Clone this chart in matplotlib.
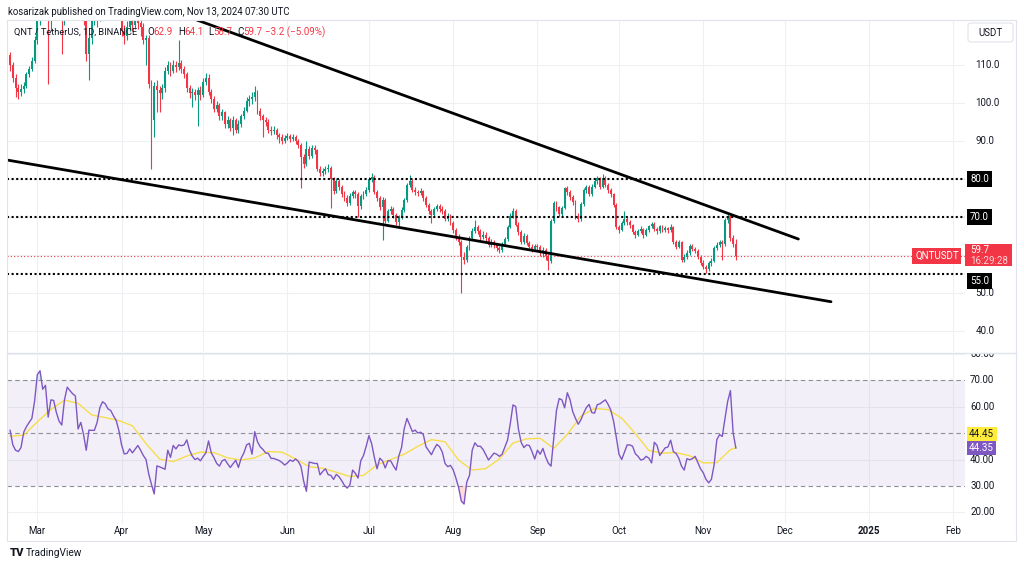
import numpy as np
import pandas as pd
import matplotlib
matplotlib.use("Agg")
import matplotlib.pyplot as plt
import matplotlib.dates as mdates
from matplotlib.patches import Rectangle, FancyBboxPatch
from matplotlib.lines import Line2D
from matplotlib.transforms import blended_transform_factory as blend

plt.rcParams["font.family"] = ["Roboto", "DejaVu Sans"]

# ---------------- data ----------------
start_date = "2024-02-20"
first_open = 112.5

closes = [
    110, 106.5, 104, 103, 103.8, 104.5, 107.5, 109, 111, 116.5,
    122, 125, 127, 129, 122, 126, 130, 133, 128, 123,
    126, 131, 134, 130, 132, 128, 126, 123, 113, 117,
    121.5, 124, 122.5, 126, 129, 127, 130, 128, 131, 129,
    126, 119, 117.5, 120, 122, 120.5, 123, 121, 120, 116.5,
    117, 105, 95.5, 104.5, 103.5, 102.5, 104, 108.5, 110, 108.5,
    110, 109.5, 110.5, 109, 107.5, 104, 102.5, 103, 102, 103.5,
    102, 105.5, 106.5, 103, 101, 98.5, 99.5, 96.5, 97.5, 94.5,
    95.5, 93.5, 95.5, 93, 94.5, 96.5, 98, 100.5, 101, 101.5,
    103, 98, 96.5, 95.5, 95, 93, 92.5, 93, 91.5, 91,
    90, 90.8, 91.3, 90.5, 91, 90, 89, 85.8, 84, 88,
    86, 88.2, 87.5, 82.5, 81.6, 82, 82.5, 83, 80, 76.8,
    79.5, 78, 76, 75, 73.8, 75.5, 76.5, 76, 72.8, 75.5,
    76, 77, 80, 80.6, 76.5, 75, 72.5, 74.5, 69, 71.5,
    72, 70.5, 68.7, 70, 71.8, 74.5, 78.5, 79.5, 77, 76.5,
    76.3, 76.8, 75, 73.2, 71.5, 70.5, 72, 72.8, 72, 71.5,
    69.5, 70.3, 68.4, 66.5, 64.7, 63.3, 59.5, 58.8, 62, 64.5,
    66.3, 67.4, 66.2, 64.8, 65.3, 64.5, 62.6, 63.5, 62.5, 61.8,
    61.2, 62.8, 64.2, 67.4, 70.3, 71.6, 68, 66, 63.5, 65,
    63.2, 62.2, 61.5, 62.4, 62, 60.5, 61.2, 59.8, 58.5, 69,
    73.7, 72.5, 70.8, 72.3, 77.5, 76.5, 75.3, 74, 70.2, 69.5,
    73.5, 77, 77.8, 76, 78, 79.5, 80.2, 78, 80.3, 78.5,
    77, 76, 73.2, 67.4, 66.6, 68.5, 69.5, 68.7, 67.8, 66,
    65.3, 66.2, 66.8, 65.3, 66.5, 67.5, 68.2, 66.8, 66.3, 67.5,
    66.5, 67, 66.5, 67.3, 63.5, 62.2, 63.3, 58.8, 59.5, 60.5,
    62.4, 61.6, 61, 59.5, 58, 56.8, 56.2, 57.8, 58.5, 61.8,
    62.5, 63.4, 62.8, 69.2, 70.2, 64.5, 62.9, 59.7,
]

highs = [
    113.5, 110.8, 107.5, 105, 105, 105.5, 108.2, 109.8, 112, 117.5,
    123.5, 127, 129, 131, 131, 127.5, 131.5, 135, 134, 129,
    127.5, 132.5, 136, 135, 133.5, 133, 129.5, 127, 124, 118.5,
    123, 125.5, 125, 127.5, 130.5, 130, 131.5, 131, 132.5, 132,
    130, 127, 120.5, 121.5, 123.5, 123, 124.5, 124, 122, 121,
    118, 118, 106, 105.5, 106, 104.5, 105, 109.5, 111, 110.8,
    111.2, 111, 116.5, 111.2, 109.8, 108.2, 104.8, 104, 103.8, 104.2,
    104.5, 106.5, 108, 107.5, 103.8, 101.8, 100.5, 100, 98.5, 98,
    96.5, 96, 96.5, 96, 95.5, 97.2, 99, 101.5, 102, 103,
    104.5, 103.5, 98.8, 97.2, 96.2, 95.8, 94, 94, 93.5, 92.2,
    91.8, 91.5, 92, 91.8, 91.8, 91.5, 90.5, 89.5, 86.5, 90,
    88.8, 89, 89, 88, 83.5, 83, 83.5, 84, 83.5, 80.5,
    80.2, 80, 78.5, 76.8, 75.8, 76.2, 77.2, 77, 76.5, 76,
    76.8, 77.8, 80.5, 81.6, 81, 77, 75.5, 75.2, 75, 72.2,
    72.8, 72.5, 71, 70.6, 72.5, 75, 79, 81, 80, 77.8,
    77.2, 77.5, 77.2, 75.6, 73.8, 72, 72.6, 73.5, 73.3, 72.8,
    72, 71, 70.8, 69, 67.2, 65.4, 64, 60.8, 62.6, 65,
    67, 69.2, 68, 66.8, 66.2, 66, 65, 64.2, 64, 63,
    62.4, 63.3, 64.8, 68, 71, 72.3, 72, 68.6, 66.5, 65.8,
    65.5, 63.8, 62.8, 63, 63, 62.5, 62, 61.8, 60.3, 69.6,
    74.3, 74.2, 73, 73, 78, 78.2, 77, 75.8, 74.5, 71,
    74, 77.6, 78.5, 78.3, 78.6, 80.2, 80.8, 80.6, 81.2, 80.8,
    79, 77.5, 76.4, 73.8, 68, 69, 71.5, 70, 69.2, 68.2,
    66.6, 66.8, 67.5, 67.2, 67, 68, 68.8, 68.6, 67.3, 68,
    68, 67.6, 67.4, 68.2, 67.7, 64, 64, 63.8, 60.2, 61.2,
    63, 63, 62.2, 61.5, 60, 58.6, 57.4, 58.3, 59.2, 62.4,
    63.4, 64, 64, 69.8, 71, 70.8, 65.3, 64.1,
]

lows = [
    108.5, 105.5, 101.5, 101, 101.8, 102.5, 104, 106.8, 108.5, 110.5,
    115.5, 120.5, 123.5, 125, 105, 119, 124.5, 128.5, 125, 113,
    120.5, 125, 129.5, 127, 127.5, 125.5, 123.5, 120.5, 111, 106,
    115.5, 120.5, 120, 121.5, 124.5, 125, 125.5, 126, 127, 127,
    124, 117.5, 115.5, 116.5, 119, 119, 119.5, 119.5, 117.5, 115.5,
    110, 104, 82.5, 91, 97.5, 97.5, 101, 103, 107.5, 107,
    107.8, 108.2, 108.8, 107.8, 106.5, 103, 101.2, 99, 100.8, 94,
    100.8, 101.5, 104.8, 102.2, 100, 97.5, 97.5, 95.5, 95.5, 93.5,
    93.5, 92.5, 91.5, 92, 92.2, 93.8, 95.8, 97.5, 99.2, 99.8,
    100.5, 97.2, 95.5, 91, 94, 92.2, 91.5, 91.8, 90.5, 89.5,
    89.2, 89.5, 90.2, 89.8, 90, 89.2, 88.2, 77.6, 82.8, 83.5,
    85.2, 85.5, 86.5, 82, 80.8, 80.8, 81.2, 81.8, 72.4, 76,
    76.2, 77.2, 75.2, 74.2, 73, 73.2, 75, 75, 70, 72.2,
    74.8, 75.5, 76.5, 79.2, 76, 74.2, 71.8, 64, 68.4, 68.6,
    70.8, 69.8, 68, 67.5, 69.5, 71.2, 74, 77.8, 76.5, 75.8,
    75.5, 75.8, 74.3, 72.5, 70.8, 68.5, 70, 71.5, 71.3, 70.8,
    69, 69, 67.8, 65.8, 64, 62.6, 50, 57.5, 58.2, 61.4,
    64, 65.8, 65.5, 64, 64.2, 63.8, 62, 62, 61.8, 61,
    60.5, 60.8, 62.3, 63.8, 67, 69.8, 67.5, 65.2, 63, 63,
    62.5, 61.5, 60.8, 61, 61.2, 59.8, 59.5, 58.8, 56, 58,
    68.5, 71.6, 70, 70.2, 72, 75.8, 74.6, 73.2, 69.6, 68.8,
    69, 73, 76.3, 75.4, 75.5, 77.5, 78.8, 77.4, 77.6, 77.8,
    76.4, 75.3, 72.6, 66.8, 65.9, 66.2, 68, 68, 67.2, 65.5,
    64.6, 64.9, 65.8, 64.6, 64.9, 66, 67, 66.2, 65.6, 65.9,
    66, 66, 65.8, 66, 63, 61.5, 61.8, 58.2, 58.2, 59,
    60, 61, 60.4, 59, 57.4, 56.2, 55.3, 55.8, 57.2, 58.2,
    61.2, 62, 58.7, 62.4, 68.5, 63.8, 62.2, 58.7,
]

rsi = [
    51, 45.5, 43.5, 43, 44.5, 50.3, 52.4, 54, 55.5, 62,
    72, 73.5, 66.5, 68, 56, 62.5, 62.3, 57.8, 54.5, 53,
    62.5, 67.3, 66, 64.8, 64, 51.5, 54, 49.5, 43.5, 51.1,
    51, 51, 54, 59.5, 61.8, 61, 59.1, 58.5, 56.5, 54.8,
    51, 45.5, 42.1, 42.3, 44, 42.5, 43.9, 45.3, 43.5, 41.5,
    40, 34.5, 30.6, 27, 37.6, 37.2, 36.8, 36.3, 43.5, 40.8,
    45.3, 44, 45.5, 45.2, 45.5, 47.4, 43.5, 41.3, 40, 40.5,
    39.5, 41.1, 42.5, 47, 42.5, 40.7, 38.5, 37.5, 39.5, 40,
    38.4, 37, 38.4, 39.7, 37, 40.5, 42.5, 45.5, 46.1, 42,
    50.5, 46.7, 44.8, 43.8, 42.5, 42.3, 40.4, 40.4, 40, 39.6,
    38.9, 37.9, 38.7, 39.8, 39.3, 40.2, 39.3, 37.4, 31.8, 28,
    39, 38.8, 38.5, 38.5, 34.2, 35.5, 36.5, 34.3, 34, 32.5,
    34.4, 33.5, 32, 30.2, 29.2, 30.4, 36, 34.8, 33, 39.5,
    41.5, 45, 49, 46, 40.8, 36.5, 40.5, 39.5, 36.8, 39.5,
    39.5, 37.6, 36, 41.3, 44.5, 51.7, 55.5, 53, 50.5, 51.1,
    50, 50.3, 49.5, 44.8, 43.3, 41.8, 44, 45.7, 44.8, 42.8,
    38.5, 37.3, 37.8, 36.1, 33, 29.4, 24.3, 23.2, 31.5, 34,
    43.5, 46.3, 45, 45, 43.8, 41.8, 39.8, 41.1, 42.4, 42,
    41.2, 42, 44.7, 47.3, 53.5, 60.6, 60, 51.5, 46.5, 44.5,
    45.5, 45.3, 43, 40.2, 43.5, 42, 44.2, 41, 38.6, 37.5,
    48, 58.5, 63, 62.5, 59.5, 65.2, 62.5, 58, 55.5, 53.3,
    55, 57.5, 59.6, 60.8, 57.7, 57.5, 60.7, 61, 61.8, 62.5,
    60.8, 58.6, 54.5, 48.5, 42, 40, 42.7, 45.5, 45.5, 45,
    42.2, 41.2, 39.8, 40.1, 41.2, 40.5, 38.7, 46.5, 45.3, 41.5,
    43, 44.4, 44.7, 47.3, 43, 42.3, 40.5, 37.5, 36, 40.3,
    39.9, 40.3, 41.2, 38.8, 36.5, 35, 32.5, 31.2, 32.5, 38,
    47.5, 49.4, 48.7, 55.5, 62, 66, 50, 44.35,
]

# RSI moving average, read every 5th day
rsi_ma_day = [0, 5, 10, 15, 20, 25, 30, 35, 40, 45, 50, 55, 60, 65, 70, 75,
              80, 85, 90, 95, 100, 105, 110, 115, 120, 125, 130, 135, 140,
              145, 150, 155, 160, 165, 170, 175, 180, 185, 190, 195, 200,
              205, 210, 215, 220, 225, 230, 235, 240, 245, 250, 255, 260,
              265, 267]
rsi_ma = [48.8, 49.2, 54.2, 58.9, 62.4, 61.2, 56.8, 55.8, 54.7, 52.7, 46,
          40.2, 39.2, 41.3, 42.8, 42.6, 40.6, 39.8, 40.6, 43, 42.8, 40.2,
          37.3, 36.7, 35.2, 33.6, 34, 38, 40, 42, 45, 47.5, 46.7, 39.8,
          36, 36.6, 40.2, 46.2, 47.8, 48, 44.2, 49.5, 56.4, 59.3, 58.8,
          55.6, 49.8, 43.4, 42.4, 42.6, 41.4, 38.7, 38.8, 43.7, 44.45]

levels = [80.0, 70.0, 55.0]
last_price = 59.7
upper_line = [("2024-04-26", 122.55), ("2024-12-06", 64.2)]
lower_line = [("2024-02-18", 85.1), ("2024-12-18", 47.7)]
price_ticks = [110, 100, 90, 50, 40]
rsi_ticks = [80, 70, 60, 40, 30, 20]

# ---------------- style ----------------
GREEN = "#089981"
RED = "#F23645"
PURPLE = "#7E57C2"
YELLOW = "#F7DD4B"
GRID = "#EEF0F4"
FRAME = "#E0E3EB"
TXT = "#131722"

W, H = 1024, 567
fig = plt.figure(figsize=(W / 100, H / 100), dpi=100)
fig.patch.set_facecolor("white")


def fx(px):
    return px / W


def fy(py):
    return 1 - py / H


PL, PR, RE = 7.3, 965.0, 1016.0
ax = fig.add_axes([fx(PL), fy(352), (PR - PL) / W, (352 - 20) / H])
ax2 = fig.add_axes([fx(PL), fy(524), (PR - PL) / W, (524 - 353) / H], sharex=ax)
axr = fig.add_axes([fx(PR), fy(352), (RE - PR) / W, (352 - 20) / H], sharey=ax)
axr2 = fig.add_axes([fx(PR), fy(524), (RE - PR) / W, (524 - 353) / H], sharey=ax2)

for a in (ax, ax2, axr, axr2):
    a.set_facecolor("none")
    for s in a.spines.values():
        s.set_visible(False)
    a.tick_params(left=False, bottom=False, labelleft=False, labelbottom=False)

dates = pd.date_range(start_date, periods=len(closes), freq="D")
xd = mdates.date2num(dates)
x_start = mdates.date2num(pd.Timestamp(start_date))
ax.set_xlim(x_start - 1.04, x_start + 351.3)
ax.set_ylim(34.47, 121.84)
ax2.set_ylim(15.66, 80.19)
axr.set_xlim(0, 1)
axr2.set_xlim(0, 1)

month_starts = pd.date_range("2024-03-01", "2025-02-01", freq="MS")

# grid
for m in month_starts:
    ax.axvline(mdates.date2num(m), color=GRID, lw=0.8, zorder=0)
    ax2.axvline(mdates.date2num(m), color=GRID, lw=0.8, zorder=0)
for v in range(40, 120, 10):
    ax.axhline(v, color=GRID, lw=0.8, zorder=0)
for v in (20, 40, 60, 80):
    ax2.axhline(v, color=GRID, lw=0.8, zorder=0)

# candles
c = np.array(closes, dtype=float)
o = np.concatenate([[first_open], c[:-1]])
hi = np.array(highs, dtype=float)
lo = np.array(lows, dtype=float)
cols = np.where(c >= o, GREEN, RED)
ax.vlines(xd, lo, hi, colors=cols, lw=0.8, zorder=3)
ax.bar(xd, np.maximum(np.abs(c - o), 0.15), bottom=np.minimum(o, c),
       width=0.7, color=cols, linewidth=0, zorder=4)

# horizontal levels and last price
for lv in levels:
    ax.axhline(lv, color="black", lw=1.5, ls=(0, (1, 1.2)), zorder=5)
ax.axhline(last_price, color=RED, lw=0.8, ls=(0, (1, 2)), zorder=2)

# trend lines
for line in (upper_line, lower_line):
    xs = [mdates.date2num(pd.Timestamp(d)) for d, _ in line]
    ys = [p for _, p in line]
    ax.plot(xs, ys, color="black", lw=2.0, solid_capstyle="round", zorder=6)

# RSI pane
ax2.axhspan(30, 70, color=PURPLE, alpha=0.09, lw=0, zorder=0)
for v in (70, 50, 30):
    ax2.axhline(v, color="#8D909A", lw=0.8, ls=(0, (4, 3)), zorder=1)
r = np.array(rsi, dtype=float)
ax2.fill_between(xd, r, 30, where=r < 30, interpolate=True, color=RED,
                 alpha=0.18, lw=0, zorder=1)
ax2.fill_between(xd, r, 70, where=r > 70, interpolate=True, color=GREEN,
                 alpha=0.18, lw=0, zorder=1)
ax2.plot(xd[rsi_ma_day], rsi_ma, color=YELLOW, lw=1.0, zorder=2)
ax2.plot(xd, r, color=PURPLE, lw=1.0, zorder=3)

# right price scale
tr = blend(axr.transAxes, axr.transData)
for v in price_ticks:
    axr.text(0.2, v, f"{v:.1f}", transform=tr, ha="left", va="center",
             fontsize=7, color=TXT, clip_on=True)
for lv, ypos in zip(levels, [80.0, 70.0, 53.2]):
    axr.text(0.1, ypos, f"{lv:.1f}", transform=tr, ha="left", va="center",
             fontsize=7, color="white",
             bbox=dict(boxstyle="square,pad=0.28", fc="black", ec="none"))
axr.add_patch(Rectangle((0.0, 57.1), 0.92, 5.8, transform=tr, fc=RED,
                        ec="none", zorder=3))
axr.text(0.1, 61.3, f"{last_price:.1f}", transform=tr, ha="left",
         va="center", fontsize=7, color="white", zorder=4)
axr.text(0.1, 58.4, "16:29:28", transform=tr, ha="left", va="center",
         fontsize=7, color="#FFD3D8", zorder=4)
tra = blend(ax.transAxes, ax.transData)
ax.text(0.9935, last_price, "QNTUSDT", transform=tra, ha="right",
        va="center", fontsize=7, color="white", zorder=8,
        bbox=dict(boxstyle="square,pad=0.28", fc=RED, ec="none"))

# right RSI scale
tr2 = blend(axr2.transAxes, axr2.transData)
for v in rsi_ticks:
    axr2.text(0.1, v, f"{v:.2f}", transform=tr2, ha="left", va="center",
              fontsize=7, color=TXT, clip_on=True)
axr2.text(0.08, 49.6, f"{rsi_ma[-1]:.2f}", transform=tr2, ha="left",
          va="center", fontsize=7, color=TXT,
          bbox=dict(boxstyle="square,pad=0.25", fc="#FFEB3B", ec="none"))
axr2.text(0.08, rsi[-1], f"{rsi[-1]:.2f}", transform=tr2, ha="left",
          va="center", fontsize=7, color="white",
          bbox=dict(boxstyle="square,pad=0.25", fc=PURPLE, ec="none"))

# USDT box
fig.add_artist(FancyBboxPatch((fx(968), fy(42)), (1013 - 968) / W, 19 / H,
                              boxstyle="round,pad=0,rounding_size=0.004",
                              transform=fig.transFigure, fc="white",
                              ec=FRAME, lw=0.8))
fig.text(fx(990.5), fy(32.5), "USDT", ha="center", va="center", fontsize=7,
         color=TXT)

# time axis labels
trx = blend(ax2.transData, fig.transFigure)
for m in month_starts:
    lab = str(m.year) if m.month == 1 else m.strftime("%b")
    fig.text(mdates.date2num(m), fy(531), lab, transform=trx, ha="center",
             va="center", fontsize=7, color=TXT,
             fontweight="bold" if m.month == 1 else "normal")

# frame and pane divider
fig.add_artist(Rectangle((fx(7), fy(541)), (RE - 7) / W, (541 - 19.5) / H,
                         transform=fig.transFigure, fill=False, ec=FRAME,
                         lw=0.8))
fig.add_artist(Line2D([fx(7), fx(RE)], [fy(352.5), fy(352.5)],
                      transform=fig.transFigure, color=FRAME, lw=1.0))

# header texts
fig.text(fx(8), fy(12), "kosarizak published on TradingView.com, Nov 13, 2024 07:30 UTC",
         ha="left", va="center", fontsize=6.9, color=TXT)
fig.text(fx(14), fy(32), "QNT / TetherUS, 1D, BINANCE", ha="left",
         va="center", fontsize=6.7, color=TXT)
legend_parts = [(147, "O", TXT), (153, "62.9", RED), (178, "H", TXT),
                (184, "64.1", RED), (208, "L", TXT), (213, "58.7", RED),
                (237, "C", TXT), (243, "59.7", RED),
                (265, "\u22123.2 (\u22125.09%)", RED)]
for xp, t, col in legend_parts:
    fig.text(fx(xp), fy(32), t, ha="left", va="center", fontsize=7,
             color=col)

# footer logo
fig.text(fx(10), fy(553), "TV", ha="left", va="center", fontsize=8,
         fontweight="black", color=TXT)
fig.text(fx(26), fy(553), "TradingView", ha="left", va="center",
         fontsize=7.3, color=TXT)

fig.savefig("out.png", dpi=100, facecolor="white")
